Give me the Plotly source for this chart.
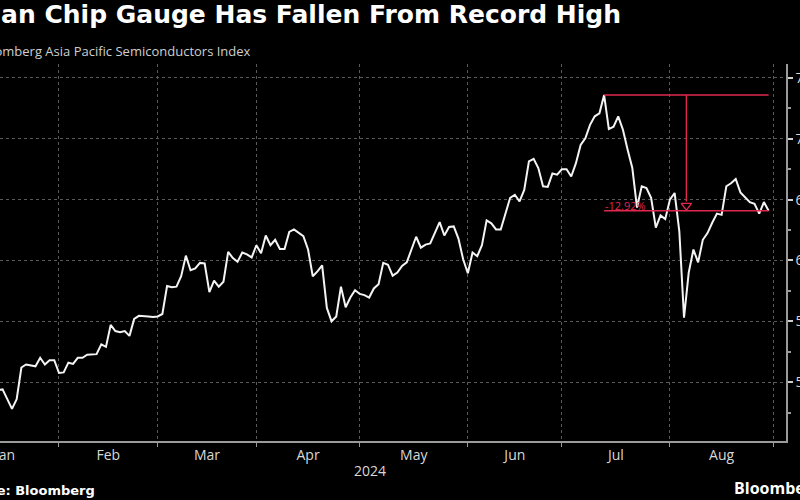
import numpy as np
import pandas as pd
import plotly.graph_objects as go

# ---------------- data ----------------
start_date = "2024-01-15"          # first trading day in the series (weekday series)
values = [
    49.35, 49.4, 48.6, 47.8, 48.6, 51.2, 51.45, 51.4, 51.3, 52.0,
    51.45, 51.8, 51.8, 50.75, 50.8, 51.6, 51.5, 52.0, 52.0, 52.25,
    52.3, 52.3, 53.1, 52.9, 54.7, 54.2, 54.1, 54.2, 53.8, 55.2,
    55.45, 55.45, 55.4, 55.35, 55.4, 55.6, 57.9, 57.8, 57.85, 58.7,
    60.4, 59.2, 59.35, 59.8, 59.75, 57.4, 58.35, 57.85, 58.25, 60.7,
    60.2, 59.9, 60.65, 60.5, 60.25, 61.25, 60.6, 62.05, 61.25, 61.7,
    60.95, 60.95, 62.35, 62.55, 62.3, 62.0, 60.9, 58.7, 59.1, 59.6,
    56.1, 55.0, 55.4, 57.85, 56.15, 56.95, 57.55, 57.25, 57.15, 56.95,
    57.7, 58.05, 59.8, 59.65, 58.75, 59.0, 59.55, 59.85, 60.9, 61.95,
    61.05, 61.3, 61.4, 62.3, 63.15, 62.05, 62.75, 62.8, 61.8, 60.1,
    58.95, 60.65, 60.35, 61.25, 63.3, 63.05, 62.55, 62.55, 63.9, 65.15,
    65.4, 64.85, 65.8, 68.15, 68.35, 67.6, 66.1, 66.05, 67.15, 67.05,
    67.5, 67.5, 66.9, 68.0, 69.5, 70.05, 71.15, 71.85, 72.1, 73.6,
    70.8, 71.0, 71.85, 70.75, 69.1, 67.6, 64.35, 66.1, 65.95, 65.15,
    62.7, 63.7, 63.4, 65.0, 65.55, 62.4, 55.3, 59.0, 60.9, 59.85,
    61.7, 62.25, 63.1, 63.85, 63.75, 66.1, 66.35, 66.7, 65.6, 65.2,
    64.8, 64.65, 63.85, 64.8, 64.09,
]
month_labels = ["Jan", "Feb", "Mar", "Apr", "May", "Jun", "Jul", "Aug"]
month_starts = ["2024-01-01", "2024-02-01", "2024-03-01", "2024-04-01", "2024-05-01",
                "2024-06-01", "2024-07-01", "2024-08-01", "2024-09-01"]
year_label = "2024"
y_ticks = [50, 55, 60, 65, 70, 75]

title_text = "Asian Chip Gauge Has Fallen From Record High"
subtitle_text = "Bloomberg Asia Pacific Semiconductors Index"
source_text = "Source: Bloomberg"

# ---------------- derived ----------------
dates = pd.bdate_range(start_date, periods=len(values))


def bday_point(day, offset_days):
    whole = int(np.floor(offset_days))
    base = np.busday_offset(np.datetime64(day), whole, roll="forward")
    return pd.Timestamp(base) + pd.Timedelta(hours=24 * (offset_days - whole))


# label positions: middle of each month's trading days
label_pos = []
for s, e in zip(month_starts[:-1], month_starts[1:]):
    n = np.busday_count(np.datetime64(s), np.datetime64(e))
    label_pos.append(bday_point(s, n / 2))
# gridlines: first trading day of each month
grid_pos = [bday_point(s, 0) for s in month_starts]

i_peak = int(np.argmax(values))
peak_val = values[i_peak]
last_val = values[-1]
peak_date = dates[i_peak]
last_date = dates[-1]
span = (len(values) - 1 - i_peak) / 2
mid_date = dates[i_peak + int(np.floor(span))] + pd.Timedelta(hours=24 * (span - np.floor(span)))
pct = (last_val / peak_val - 1) * 100

RED = "#e0284f"
FONT = "Open Sans, Noto Sans, DejaVu Sans, sans-serif"
BOLD = "DejaVu Sans, Open Sans, sans-serif"

fig = go.Figure()
fig.add_trace(go.Scatter(x=dates, y=values, mode="lines",
                         line=dict(color="#f4f4f4", width=2), hoverinfo="skip"))
# drawdown markers
fig.add_trace(go.Scatter(x=[peak_date, last_date], y=[peak_val, peak_val], mode="lines",
                         line=dict(color=RED, width=1.6), hoverinfo="skip"))
fig.add_trace(go.Scatter(x=[peak_date, last_date], y=[last_val, last_val], mode="lines",
                         line=dict(color=RED, width=1.6), hoverinfo="skip"))
fig.add_trace(go.Scatter(x=[mid_date, mid_date], y=[peak_val, last_val + 0.75], mode="lines",
                         line=dict(color=RED, width=1.4), hoverinfo="skip"))
fig.add_trace(go.Scatter(x=[mid_date], y=[last_val + 0.42], mode="markers",
                         marker=dict(symbol="triangle-down-open", size=9, color=RED,
                                     line=dict(color=RED, width=1.4)),
                         hoverinfo="skip"))

fig.add_annotation(x=peak_date, y=last_val, xref="x", yref="y", text=f"{pct:.2f}%",
                   showarrow=False, xanchor="left", yanchor="middle", yshift=5, xshift=-1,
                   font=dict(color=RED, size=11, family=FONT))

# texts
fig.add_annotation(x=253 / 786, y=1 + (64 - 51) / 377, xref="paper", yref="paper",
                   text=subtitle_text, showarrow=False, xanchor="right", yanchor="middle",
                   font=dict(color="#cfcfcf", size=13, family=FONT))
fig.add_annotation(x=370 / 786, y=(441 - 470) / 377, xref="paper", yref="paper",
                   text=year_label, showarrow=False, xanchor="center", yanchor="middle",
                   font=dict(color="#d8d8d8", size=14, family=FONT))
fig.add_annotation(x=97 / 786, y=(441 - 490) / 377, xref="paper", yref="paper",
                   text=f"<b>{source_text}</b>", showarrow=False, xanchor="right", yanchor="middle",
                   font=dict(color="#ffffff", size=13, family=BOLD))
fig.add_annotation(x=732 / 786, y=(441 - 488) / 377, xref="paper", yref="paper",
                   text="<b>Bloomberg</b>", showarrow=False, xanchor="left", yanchor="middle",
                   font=dict(color="#ffffff", size=16, family=FONT))

fig.update_layout(
    width=800, height=500,
    template="none",
    paper_bgcolor="#000000", plot_bgcolor="#000000",
    margin=dict(l=0, r=14, t=64, b=59, pad=0),
    showlegend=False,
    font=dict(family=FONT, color="#d8d8d8", size=14),
    title=dict(text=f"<b>{title_text}</b>", x=621 / 800, xanchor="right", xref="container",
               y=1 - 14 / 500, yanchor="middle", yref="container",
               font=dict(color="#ffffff", size=25, family=BOLD)),
    xaxis=dict(
        type="date",
        range=["2024-01-15 10:48", "2024-09-04 16:48"],
        rangebreaks=[dict(bounds=["sat", "mon"])],
        tickmode="array", tickvals=label_pos, ticktext=month_labels,
        ticklabeloverflow="allow",
        ticks="", showgrid=False, zeroline=False,
        showline=True, linecolor="#9a9a9a", linewidth=1.5,
        tickfont=dict(color="#d8d8d8", size=14),
        automargin=False,
        minor=dict(tickmode="array", tickvals=grid_pos, ticks="outside", ticklen=4,
                   tickcolor="#9a9a9a", tickwidth=1, showgrid=True,
                   gridcolor="#5a5a5a", griddash="dot", gridwidth=1),
    ),
    yaxis=dict(
        side="right",
        range=[45.16, 76.15],
        tickmode="array", tickvals=y_ticks,
        ticks="outside", ticklen=5, tickcolor="#cfcfcf", tickwidth=1.5,
        ticklabeloverflow="allow",
        showgrid=True, gridcolor="#5a5a5a", griddash="dot", gridwidth=1,
        zeroline=False,
        showline=True, linecolor="#9a9a9a", linewidth=1.5,
        tickfont=dict(color="#d8d8d8", size=14),
        automargin=False,
        minor=dict(dtick=2.5, tick0=0, ticks="outside", ticklen=3, tickcolor="#9a9a9a",
                   showgrid=False),
    ),
)

fig.write_html("out.html")
